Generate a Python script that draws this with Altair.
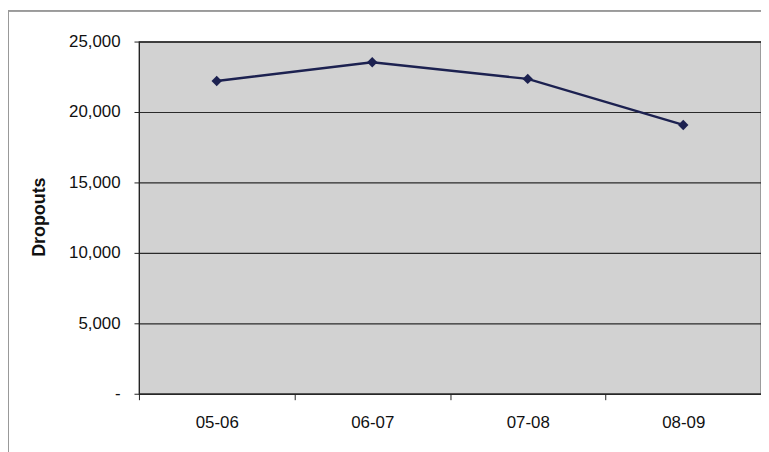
import altair as alt
import pandas as pd

years = ["05-06", "06-07", "07-08", "08-09"]
dropouts = [22200, 23530, 22350, 19080]

df = pd.DataFrame({"Year": years, "Dropouts": dropouts})

W, H = 627, 355

x_enc = alt.X("Year:N", sort=years, title=None,
              scale=alt.Scale(type="band", paddingInner=0, paddingOuter=0),
              axis=alt.Axis(labelAngle=0, tickBand="extent", tickSize=6,
                            labelPadding=15, labelFontSize=17, labelColor="#111",
                            domainColor="#222", tickColor="#222",
                            labelFont="Liberation Sans", grid=False))
y_enc = alt.Y("Dropouts:Q", title="Dropouts",
              scale=alt.Scale(domain=[0, 25000]),
              axis=alt.Axis(values=[0, 5000, 10000, 15000, 20000, 25000],
                            labelExpr="datum.value == 0 ? '-' : format(datum.value, ',')",
                            tickSize=5, labelPadding=14, labelFontSize=17,
                            labelColor="#111", labelFont="Liberation Sans",
                            domainColor="#222", tickColor="#222",
                            grid=True, gridColor="#2a2a2a", gridWidth=1.2,
                            titleFont="Liberation Sans", titleFontSize=18,
                            titleFontWeight="bold", titleColor="#111",
                            titleAngle=-90, titleX=-100, titleY=H / 2 - 1,
                            titleAlign="center", titleBaseline="middle"))

frame = alt.Chart(df).mark_rect(fill=None, stroke="#9a9a9a", strokeWidth=1.5).encode(
    x=alt.value(-132), x2=alt.value(W + 200),
    y=alt.value(-31), y2=alt.value(H + 200))

line = alt.Chart(df).mark_line(color="#1c2150", strokeWidth=2.3,
                               point=alt.OverlayMarkDef(shape="diamond", filled=True,
                                                        size=110, color="#1c2150")).encode(
    x=x_enc, y=y_enc)

chart = alt.layer(line, frame).properties(
    width=W, height=H,
    autosize=alt.AutoSizeParams(type="none"),
    padding={"left": 132, "top": 32, "right": 0, "bottom": 70},
    background="white",
).configure_view(fill="#d2d2d2", stroke="#222", strokeWidth=1.2)

chart.save("out.html", embed_options={"renderer": "svg", "actions": False})
